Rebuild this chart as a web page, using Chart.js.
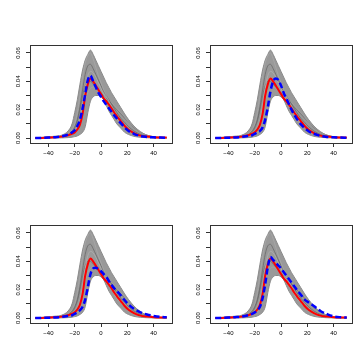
<!DOCTYPE html>
<html>
<head>
<meta charset="utf-8">
<script src="https://cdn.jsdelivr.net/npm/chart.js@4.4.1/dist/chart.umd.min.js"></script>
<style>
  body { margin: 0; background: #fff; }
  .painel { position: absolute; width: 180px; height: 180px; }
</style>
</head>
<body>
<div class="painel" style="left:0;top:0"><canvas id="p1" width="180" height="180"></canvas></div>
<div class="painel" style="left:180px;top:0"><canvas id="p2" width="180" height="180"></canvas></div>
<div class="painel" style="left:0;top:180px"><canvas id="p3" width="180" height="180"></canvas></div>
<div class="painel" style="left:180px;top:180px"><canvas id="p4" width="180" height="180"></canvas></div>
<script>
// grade em x comum a todas as curvas
const xs = [-50, -45, -40, -35, -30, -25, -22, -20, -18, -16, -14, -12, -10, -8, -6, -4, -2, 0, 2, 4, 6, 8, 10, 12, 15, 18, 21, 25, 30, 35, 40, 45, 50];
const xTicks = [-40, -20, 0, 20, 40];
const yTicks = [0, 0.01, 0.02, 0.03, 0.04, 0.05, 0.06];

// faixa cinza (envelope das simulacoes)
const cinzaMax = [0.0003, 0.0005, 0.0008, 0.0013, 0.002, 0.005, 0.010, 0.018, 0.027, 0.038, 0.048, 0.055, 0.059, 0.062, 0.059, 0.055, 0.051, 0.047, 0.043, 0.039, 0.0355, 0.032, 0.029, 0.026, 0.0215, 0.017, 0.013, 0.0085, 0.0045, 0.002, 0.0009, 0.0005, 0.0003];
const cinzaMin = [0, 0, 0, 0.0001, 0.0001, 0.0003, 0.0006, 0.001, 0.0015, 0.0025, 0.004, 0.008, 0.018, 0.026, 0.029, 0.030, 0.030, 0.029, 0.027, 0.023, 0.019, 0.016, 0.013, 0.010, 0.007, 0.004, 0.0025, 0.0012, 0.0005, 0.0002, 0.0001, 0, 0];

// algumas curvas simuladas
const cinzaA = [0, 0.0002, 0.0004, 0.0008, 0.0015, 0.003, 0.006, 0.010, 0.018, 0.030, 0.043, 0.053, 0.058, 0.060, 0.056, 0.050, 0.044, 0.039, 0.034, 0.030, 0.026, 0.022, 0.019, 0.016, 0.012, 0.009, 0.006, 0.0035, 0.0015, 0.0007, 0.0003, 0.0002, 0.0001];
const cinzaB = [0, 0.0002, 0.0004, 0.0008, 0.0014, 0.0028, 0.005, 0.008, 0.013, 0.022, 0.034, 0.045, 0.051, 0.052, 0.049, 0.045, 0.041, 0.037, 0.033, 0.030, 0.027, 0.024, 0.021, 0.018, 0.014, 0.011, 0.008, 0.005, 0.0025, 0.0012, 0.0005, 0.0003, 0.0002];
const cinzaC = [0, 0.0001, 0.0003, 0.0006, 0.001, 0.002, 0.0035, 0.005, 0.008, 0.013, 0.020, 0.027, 0.032, 0.035, 0.036, 0.035, 0.034, 0.033, 0.031, 0.029, 0.027, 0.025, 0.023, 0.021, 0.018, 0.015, 0.011, 0.008, 0.004, 0.002, 0.0009, 0.0005, 0.0003];
const cinzaD = [0, 0.0001, 0.0002, 0.0004, 0.0008, 0.0015, 0.0025, 0.004, 0.007, 0.012, 0.022, 0.035, 0.044, 0.047, 0.046, 0.043, 0.039, 0.035, 0.031, 0.027, 0.023, 0.020, 0.017, 0.014, 0.011, 0.008, 0.0055, 0.003, 0.0013, 0.0006, 0.0003, 0.0002, 0.0001];
const cinzaE = [0, 0.0001, 0.0002, 0.0005, 0.001, 0.002, 0.004, 0.007, 0.012, 0.020, 0.030, 0.037, 0.040, 0.040, 0.038, 0.036, 0.034, 0.032, 0.030, 0.028, 0.026, 0.024, 0.022, 0.020, 0.017, 0.014, 0.011, 0.0075, 0.004, 0.002, 0.001, 0.0005, 0.0003];

// densidade verdadeira (vermelho)
const vermelho = [0, 0.0001, 0.0003, 0.0006, 0.001, 0.002, 0.003, 0.004, 0.006, 0.0095, 0.017, 0.030, 0.038, 0.042, 0.040, 0.037, 0.034, 0.031, 0.028, 0.026, 0.0235, 0.021, 0.018, 0.0155, 0.012, 0.0085, 0.0058, 0.0035, 0.0017, 0.001, 0.0006, 0.0004, 0.0003];

// estimativas (azul tracejado), uma por painel
const azul1 = [0, 0.0001, 0.0003, 0.0006, 0.0012, 0.0025, 0.004, 0.0055, 0.0085, 0.013, 0.021, 0.031, 0.041, 0.044, 0.040, 0.036, 0.032, 0.029, 0.026, 0.0235, 0.021, 0.0185, 0.016, 0.0138, 0.0105, 0.0075, 0.005, 0.003, 0.0014, 0.0008, 0.0005, 0.0003, 0.0002];
const azul2 = [0, 0.0001, 0.0002, 0.0004, 0.0008, 0.0015, 0.002, 0.003, 0.004, 0.005, 0.0075, 0.013, 0.022, 0.033, 0.040, 0.042, 0.041, 0.037, 0.032, 0.028, 0.024, 0.020, 0.0165, 0.0135, 0.0098, 0.007, 0.0048, 0.003, 0.0015, 0.0008, 0.0005, 0.0003, 0.0002];
const azul3 = [0, 0.0001, 0.0002, 0.0004, 0.0008, 0.0015, 0.002, 0.003, 0.004, 0.0055, 0.008, 0.013, 0.022, 0.031, 0.035, 0.0355, 0.0345, 0.033, 0.031, 0.029, 0.026, 0.0235, 0.021, 0.019, 0.016, 0.0125, 0.0095, 0.0065, 0.004, 0.0025, 0.0015, 0.0008, 0.0005];
const azul4 = [0, 0.0001, 0.0003, 0.0006, 0.001, 0.002, 0.003, 0.004, 0.0055, 0.008, 0.014, 0.024, 0.036, 0.043, 0.041, 0.039, 0.037, 0.035, 0.0325, 0.030, 0.0275, 0.025, 0.0225, 0.020, 0.0165, 0.013, 0.011, 0.0085, 0.005, 0.0028, 0.0012, 0.0006, 0.0004];

const fonte = { family: "'Liberation Sans', Arial, sans-serif", size: 6 };

function pontos(ys) {
	return xs.map((x, i) => ({ x: x, y: ys[i] }));
}

function linha(ys, cor, largura, ordem) {
	return {
		data: pontos(ys),
		borderColor: cor,
		borderWidth: largura,
		pointRadius: 0,
		cubicInterpolationMode: 'monotone',
		order: ordem
	};
}

const caixa = {
	id: 'caixa',
	afterDraw(chart) {
		const a = chart.chartArea;
		const ctx = chart.ctx;
		ctx.save();
		ctx.strokeStyle = '#333';
		ctx.lineWidth = 1;
		ctx.strokeRect(Math.round(a.left) + 0.5, Math.round(a.top) + 0.5, Math.round(a.right - a.left), Math.round(a.bottom - a.top));
		ctx.restore();
	}
};

function graficoPainel(id, azul) {
	const ctx = document.getElementById(id);
	const faixaMin = linha(cinzaMin, '#8a8a8a', 1, 4);
	const faixaMax = linha(cinzaMax, '#8a8a8a', 1, 4);
	faixaMax.fill = '-1';
	faixaMax.backgroundColor = 'rgba(128,128,128,0.8)';

	const tracejado = linha(azul, '#0000ff', 2.5, 0);
	tracejado.borderDash = [6, 3];

	new Chart(ctx, {
		type: 'line',
		data: {
			datasets: [
				faixaMin,
				faixaMax,
				linha(cinzaA, '#a8a8a8', 0.8, 2),
				linha(cinzaB, '#6a6a6a', 0.8, 2),
				linha(cinzaC, '#a5a5a5', 0.8, 2),
				linha(cinzaD, '#b0b0b0', 0.8, 2),
				linha(cinzaE, '#6e6e6e', 0.8, 2),
				linha(vermelho, '#ff0000', 2, 1),
				tracejado
			]
		},
		options: {
			responsive: false,
			animation: false,
			layout: { padding: { top: 45, right: 8, left: 0, bottom: 0 } },
			plugins: { legend: { display: false }, tooltip: { enabled: false } },
			scales: {
				x: {
					type: 'linear',
					min: -54,
					max: 54,
					afterFit: s => { s.height = 37; },
					afterBuildTicks: s => { s.ticks = xTicks.map(v => ({ value: v })); },
					border: { display: false },
					grid: { drawOnChartArea: false, drawTicks: true, tickLength: 4, color: '#333' },
					ticks: {
						font: fonte,
						color: '#000',
						padding: 3,
						maxRotation: 0,
						autoSkip: false,
						callback: v => String(v).replace('-', '\u2212')
					}
				},
				y: {
					min: -0.0035,
					max: 0.0656,
					afterFit: s => { s.width = 30; },
					afterBuildTicks: s => { s.ticks = yTicks.map(v => ({ value: v })); },
					border: { display: false },
					grid: { drawOnChartArea: false, drawTicks: true, tickLength: 4, color: '#333' },
					ticks: {
						font: fonte,
						color: '#000',
						padding: 2,
						minRotation: 90,
						maxRotation: 90,
						crossAlign: 'center',
						autoSkip: false,
						callback: (v, i) => (i % 2 === 0 ? v.toFixed(2) : '')
					}
				}
			}
		},
		plugins: [caixa]
	});
}

graficoPainel('p1', azul1);
graficoPainel('p2', azul2);
graficoPainel('p3', azul3);
graficoPainel('p4', azul4);
</script>
</body>
</html>
